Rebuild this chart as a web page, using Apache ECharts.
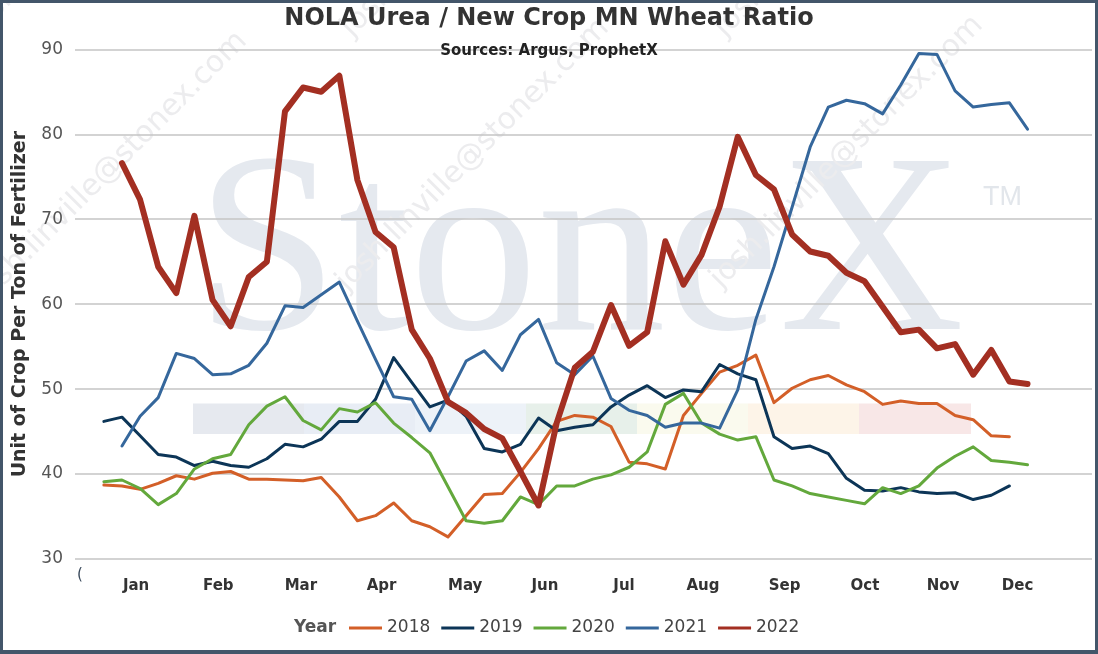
<!DOCTYPE html>
<html><head><meta charset="utf-8">
<script src="https://cdn.jsdelivr.net/npm/echarts@6/dist/echarts.min.js"></script>
<style>
html,body{margin:0;padding:0;background:#43566a;}
#wrap{position:absolute;left:0;top:0;width:1098px;height:654px;background:#43566a;}
#chart{position:absolute;left:3px;top:3px;width:1092px;height:647px;background:#ffffff;}
</style></head><body>
<div id="wrap"><div id="chart"></div></div>
<script>
// week index 0..51
const seriesNames = ['2018', '2019', '2020', '2021', '2022'];
const v2018 = [38.7, 38.6, 38.2, 38.9, 39.8, 39.4, 40.1, 40.3, 39.4, 39.4, 39.3, 39.2, 39.6, 37.3, 34.5, 35.1, 36.6, 34.5, 33.8, 32.6,
  35.1, 37.6, 37.7, 40.2, 43.0, 46.2, 46.9, 46.7, 45.6, 41.4, 41.2, 40.6, 46.9, 49.5, 52.0, 52.8, 54.0, 48.4, 50.1, 51.1,
  51.6, 50.5, 49.7, 48.2, 48.6, 48.3, 48.3, 46.9, 46.4, 44.5, 44.4, null];
const v2019 = [46.2, 46.7, 44.5, 42.3, 42.0, 41.0, 41.5, 41.0, 40.8, 41.8, 43.5, 43.2, 44.1, 46.2, 46.2, 48.8, 53.7, 50.8, 47.9, 48.7,
  46.8, 43.0, 42.6, 43.5, 46.6, 45.1, 45.5, 45.8, 47.9, 49.3, 50.4, 49.0, 49.9, 49.7, 52.9, 51.8, 51.1, 44.4, 43.0, 43.3,
  42.4, 39.5, 38.1, 38.0, 38.4, 37.9, 37.7, 37.8, 37.0, 37.5, 38.6, null];
const v2020 = [39.1, 39.3, 38.3, 36.4, 37.7, 40.6, 41.8, 42.3, 45.8, 48.0, 49.1, 46.3, 45.2, 47.7, 47.3, 48.4, 46.0, 44.3, 42.5, 38.5,
  34.5, 34.2, 34.5, 37.3, 36.4, 38.6, 38.6, 39.4, 39.9, 40.8, 42.6, 48.2, 49.5, 46.0, 44.7, 44.0, 44.4, 39.3, 38.6, 37.7,
  37.3, 36.9, 36.5, 38.4, 37.7, 38.6, 40.7, 42.1, 43.2, 41.6, 41.4, 41.1];
const v2021 = [null, 43.3, 46.8, 49.0, 54.2, 53.6, 51.7, 51.8, 52.8, 55.4, 59.8, 59.6, 61.1, 62.6, 58.0, 53.5, 49.1, 48.8, 45.1, 49.1,
  53.3, 54.5, 52.2, 56.4, 58.2, 53.1, 51.7, 53.9, 48.9, 47.5, 46.9, 45.5, 46.0, 46.0, 45.4, 49.9, 58.2, 64.4, 71.4, 78.5,
  83.2, 84.0, 83.6, 82.4, 85.8, 89.5, 89.4, 85.1, 83.2, 83.5, 83.7, 80.6];
const v2022 = [null, 76.6, 72.3, 64.4, 61.3, 70.4, 60.5, 57.4, 63.2, 65.0, 82.7, 85.5, 85.0, 86.9, 74.6, 68.5, 66.7, 57.0, 53.6, 48.5,
  47.2, 45.3, 44.2, 40.3, 36.3, 46.0, 52.5, 54.4, 59.9, 55.1, 56.7, 67.4, 62.3, 65.8, 71.5, 79.7, 75.2, 73.5, 68.2, 66.2,
  65.7, 63.7, 62.7, 59.7, 56.7, 57.0, 54.8, 55.3, 51.7, 54.6, 50.9, 50.6];
const monthLabels = ['Jan', 'Feb', 'Mar', 'Apr', 'May', 'Jun', 'Jul', 'Aug', 'Sep', 'Oct', 'Nov', 'Dec'];
const monthTicks = [1.78, 6.32, 10.88, 15.33, 19.95, 24.35, 28.72, 33.08, 37.59, 42.02, 46.33, 50.45];
const yMin = 30, yMax = 90, yStep = 10;

const allValues = [v2018, v2019, v2020, v2021, v2022];
const colors = ['#d35f28', '#0c3557', '#63a83c', '#35679c', '#a32f22'];
const widths = [3, 3, 3, 3, 6];

const chart = echarts.init(document.getElementById('chart'), null, {renderer: 'canvas'});
const FONT = 'DejaVu Sans';

const stripeX = [190, 301, 412, 523, 634, 745, 856, 968];
const stripeColors = ['#e6e9ef', '#e8edf5', '#edf2f8', '#e7f0ea', '#fafaee', '#fdf4e8', '#f8e7e7'];
const gfx = [];
for (let k = 0; k < 7; k++) {
  gfx.push({type: 'rect', z: -10, silent: true,
    shape: {x: stripeX[k], y: 400.5, width: stripeX[k + 1] - stripeX[k], height: 30.5},
    style: {fill: stripeColors[k]}});
}
gfx.push({type: 'text', z: -9, silent: true, x: 193, y: 258.6,
  style: {text: 'StoneX', font: '256px "Liberation Serif"', fill: '#e5e9ef', verticalAlign: 'middle', align: 'left'}});
gfx.push({type: 'text', z: -9, silent: true, x: 980, y: 195,
  style: {text: 'TM', font: '27px "Liberation Sans"', fill: '#e2e6eb', verticalAlign: 'middle', align: 'left'}});
const wmPos = [[-13, 307], [349, 294], [723, 291], [-21, 40], [354, 40], [727, 40]];
wmPos.forEach(p => {
  gfx.push({type: 'text', z: -8, silent: true, x: p[0], y: p[1], rotation: Math.PI / 4,
    style: {text: 'josh.linville@stonex.com', font: '30px "DejaVu Sans"', fill: '#ececee', verticalAlign: 'bottom', align: 'left'}});
});
gfx.push({type: 'text', z: 5, silent: true, x: 74, y: 572,
  style: {text: '(', font: '15px "DejaVu Sans"', fill: '#3a4a5c', verticalAlign: 'middle', align: 'left'}});

const series = allValues.map((arr, s) => ({
  name: seriesNames[s],
  type: 'line',
  symbol: 'none',
  z: 2 + s,
  data: arr.map((v, i) => (v == null ? null : [i, v])).filter(d => d),
  lineStyle: {color: colors[s], width: widths[s], cap: 'round', join: 'round'},
  itemStyle: {color: colors[s]},
  emphasis: {disabled: true},
  animation: false
}));

chart.setOption({
  animation: false,
  backgroundColor: '#ffffff',
  textStyle: {fontFamily: FONT},
  title: [
    {text: 'NOLA Urea / New Crop MN Wheat Ratio', left: 'center', top: -1.5,
      textStyle: {fontSize: 24, fontWeight: 'bold', color: '#333333', fontFamily: FONT}},
    {text: 'Sources: Argus, ProphetX', left: 'center', top: 35.5,
      textStyle: {fontSize: 15, fontWeight: 'bold', color: '#222222', fontFamily: FONT}},
    {text: 'Year', left: 286, top: 611.5,
      textStyle: {fontSize: 17, fontWeight: 'bold', color: '#555555', fontFamily: FONT}}
  ],
  legend: {
    left: 341, top: 611.5, itemWidth: 33, itemHeight: 3, itemGap: 11,
    icon: 'rect',
    itemStyle: {borderWidth: 0},
    data: seriesNames,
    textStyle: {fontSize: 17, color: '#444444', fontFamily: FONT}
  },
  graphic: {elements: gfx},
  grid: {left: 67, right: 3, top: 46.3, bottom: 91, containLabel: false},
  xAxis: {
    type: 'value', min: -1.594, max: 54.56,
    axisLine: {show: false}, axisTick: {show: false}, splitLine: {show: false},
    axisLabel: {
      customValues: monthTicks, margin: 20,
      fontSize: 15, fontWeight: 'bold', color: '#333333', fontFamily: FONT,
      formatter: v => { const k = monthTicks.indexOf(v); return k >= 0 ? monthLabels[k] : ''; }
    }
  },
  yAxis: {
    type: 'value', min: yMin, max: yMax, interval: yStep,
    name: 'Unit of Crop Per Ton of Fertilizer', nameLocation: 'middle', nameGap: 45,
    nameTextStyle: {fontSize: 19, fontWeight: 'bold', color: '#333333', fontFamily: FONT},
    axisLine: {show: false}, axisTick: {show: false},
    axisLabel: {fontSize: 17, color: '#555555', margin: 12, fontFamily: FONT},
    splitLine: {lineStyle: {color: '#c4c4c4', width: 1.5}}
  },
  series: series
});
</script>
</body></html>
